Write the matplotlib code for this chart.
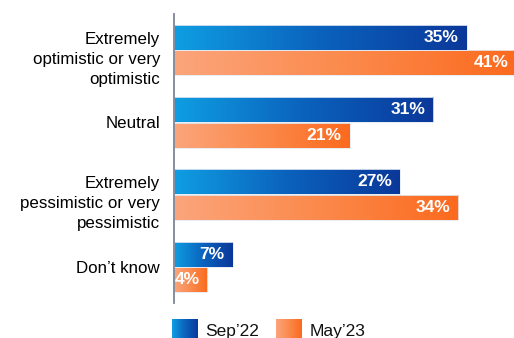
import numpy as np
import matplotlib
matplotlib.use("Agg")
import matplotlib.pyplot as plt
import matplotlib.transforms as mtransforms
from matplotlib.colors import LinearSegmentedColormap
from matplotlib.patches import Rectangle

plt.rcParams["font.family"] = ["Liberation Sans", "DejaVu Sans"]

categories = [
    "Extremely\noptimistic or very\noptimistic",
    "Neutral",
    "Extremely\npessimistic or very\npessimistic",
    "Don\u2019t know",
]
series_names = ["Sep\u201922", "May\u201923"]
sep22 = [35, 31, 27, 7]
may23 = [41, 21, 34, 4]

blue_cmap = LinearSegmentedColormap.from_list("blue", ["#0f9ee2", "#0b62bd", "#0a389a"])
orange_cmap = LinearSegmentedColormap.from_list("orange", ["#fba57c", "#fb8a4c", "#fb6a1e"])
grad = np.linspace(0, 1, 256).reshape(1, -1)

W, H = 514, 338
fig = plt.figure(figsize=(W / 100, H / 100), dpi=100)
ax = fig.add_axes([174 / W, 35 / H, 340 / W, 289 / H])

bar_h = 0.345
gap = 0.006


def gradient_bar(ax, y0, value, cmap):
    y1 = y0 + bar_h
    ax.imshow(grad, cmap=cmap, extent=[0, value, y1, y0], aspect="auto",
              interpolation="bicubic", zorder=2)
    ax.add_patch(Rectangle((0, y0), value, bar_h, fill=False,
                           edgecolor="#e4ebf3", linewidth=0.6, zorder=3))
    ax.text(value - 0.95, y0 + bar_h / 2, f"{value}%", ha="right", va="center",
            color="white", fontsize=12.5, fontweight="bold", zorder=4)


for i, (a, b) in enumerate(zip(sep22, may23)):
    gradient_bar(ax, i - bar_h - gap / 2, a, blue_cmap)
    gradient_bar(ax, i + gap / 2, b, orange_cmap)

ax.set_xlim(0, 40.67)
ax.set_ylim(3.5, -0.5)
ax.set_yticks(range(len(categories)))
ax.set_yticklabels(categories, fontsize=12.2, linespacing=1.42, ha="right")
ax.tick_params(axis="y", length=0, pad=10)
# multi-line labels sit a little lower than their group centre
shift = mtransforms.ScaledTranslation(0, -5 / 100, fig.dpi_scale_trans)
for lbl in ax.get_yticklabels():
    if "\n" in lbl.get_text():
        lbl.set_transform(lbl.get_transform() + shift)
ax.set_xticks([])
for side in ["top", "right", "bottom"]:
    ax.spines[side].set_visible(False)
ax.spines["left"].set_color("#7d8696")
ax.spines["left"].set_linewidth(1.3)
ax.spines["left"].set_zorder(5)

# legend swatches with the same gradients
legend_items = [(172, 205, blue_cmap), (276, 310, orange_cmap)]
for (px, tx, cmap), name in zip(legend_items, series_names):
    lax = fig.add_axes([px / W, (H - 344) / H, 26 / W, 25 / H])
    lax.imshow(grad, cmap=cmap, aspect="auto", interpolation="bicubic")
    lax.set_axis_off()
    fig.text(tx / W, 2 / H, name, fontsize=12.5, color="#111111", va="baseline", ha="left")

fig.savefig("out.png", dpi=100)
